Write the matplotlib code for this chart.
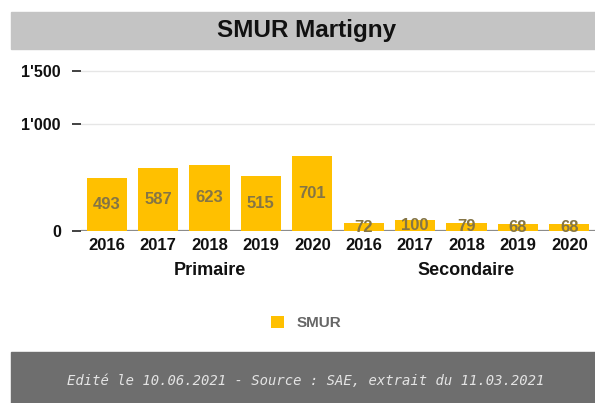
import matplotlib.pyplot as plt
from matplotlib.patches import Rectangle

years = ['2016', '2017', '2018', '2019', '2020']
groups = ['Primaire', 'Secondaire']
primaire = [493, 587, 623, 515, 701]
secondaire = [72, 100, 79, 68, 68]
values = primaire + secondaire
labels = years + years
yticks = [0, 1000, 1500]
ytick_labels = ["0", "1'000", "1'500"]

plt.rcParams['font.family'] = ['Liberation Sans', 'DejaVu Sans']

fig = plt.figure(figsize=(5.95, 4.03), dpi=100)

# title band and footer band
fig.patches.append(Rectangle((11 / 595, 1 - 49 / 403), 1, 37 / 403,
                             transform=fig.transFigure, color='#c4c4c4', zorder=0))
fig.patches.append(Rectangle((11 / 595, 0), 1, 51 / 403,
                             transform=fig.transFigure, color='#6e6e6e', zorder=0))
fig.text(307 / 595, 1 - 31 / 403, 'SMUR Martigny', ha='center', va='center',
         fontsize=17.5, fontweight='bold', color='#111111')
fig.text(306 / 595, 1 - 381 / 403,
         'Edité le 10.06.2021 - Source : SAE, extrait du 11.03.2021',
         ha='center', va='center', fontsize=10, style='italic',
         family='DejaVu Sans Mono', color='#e4e4e4')

ax = fig.add_axes([81 / 595, 1 - 231 / 403, 514 / 595, 176 / 403])
x = list(range(len(values)))
bars = ax.bar(x, values, width=0.78, color='#ffc000', label='SMUR', zorder=2)
for xi, v in zip(x, values):
    ax.text(xi, v / 2, str(v), ha='center', va='center', fontsize=12,
            fontweight='bold', color='#857545', zorder=3)

ax.set_xlim(-0.5, len(values) - 0.5)
ax.set_ylim(0, 1650)
ax.set_xticks(x)
ax.set_xticklabels(labels, fontsize=12, fontweight='bold', color='#111111')
ax.set_yticks(yticks)
ax.set_yticklabels(ytick_labels, fontsize=11.5, fontweight='bold', color='#111111')
ax.tick_params(axis='x', length=0, pad=5)
ax.tick_params(axis='y', length=6.5, width=1.3, color='#333333', pad=8)
for s in ax.spines.values():
    s.set_visible(False)
ax.axhline(0, color='#8c8c8c', lw=1.6, zorder=1)
for t in yticks[1:]:
    ax.axhline(t, color='#e6e6e6', lw=1, zorder=0)

ax.text(2, -0.222, groups[0], transform=ax.get_xaxis_transform(), ha='center',
        va='center', fontsize=13, fontweight='bold', color='#111111')
ax.text(7, -0.222, groups[1], transform=ax.get_xaxis_transform(), ha='center',
        va='center', fontsize=13, fontweight='bold', color='#111111')

fig.legend(handles=[bars], labels=['SMUR'], loc='center',
           bbox_to_anchor=(306 / 595, 1 - 323 / 403), frameon=False,
           handlelength=0.9, handleheight=0.9, handletextpad=0.8,
           prop={'weight': 'bold', 'size': 11}, labelcolor='#666666')

fig.savefig('out.png', dpi=100)
